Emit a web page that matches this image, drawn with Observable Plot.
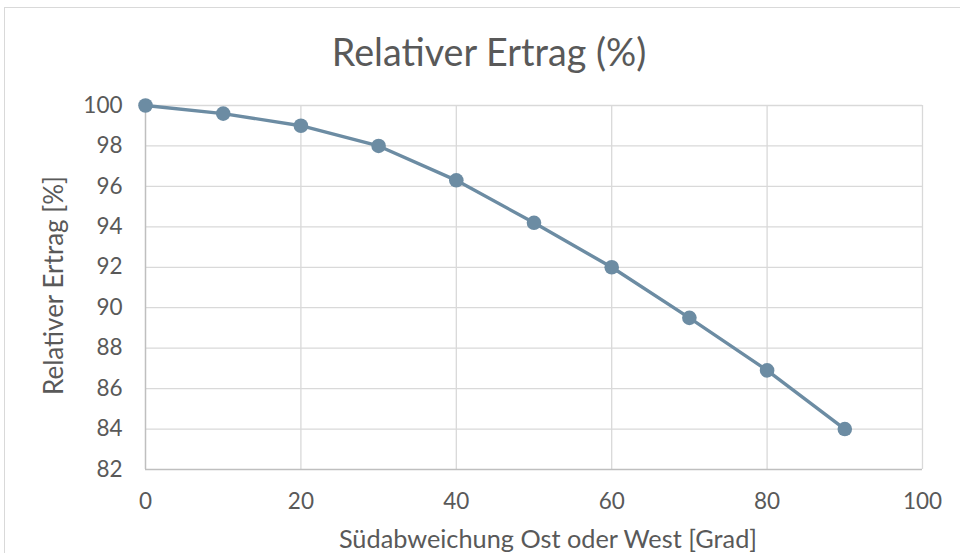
<!DOCTYPE html>
<html>
<head>
<meta charset="utf-8">
<script src="https://cdn.jsdelivr.net/npm/d3@7"></script>
<script src="https://cdn.jsdelivr.net/npm/@observablehq/plot@0.6"></script>
<style>
  html, body { margin: 0; padding: 0; background: #fff; }
  body { width: 960px; height: 553px; overflow: hidden; position: relative; font-family: Lato, "Open Sans", sans-serif; }
  #frame { position: absolute; left: 4px; top: 7px; width: 980px; height: 600px; border: 1px solid #d9d9d9; box-sizing: border-box; }
  #title { position: absolute; left: 0; top: 0; width: 978px; height: 80px; text-align: center; font-size: 37.7px; font-weight: 400; color: #595959; line-height: 104px; }
  #chart { position: absolute; left: 0; top: 80px; }
  #chart svg { overflow: visible; }
</style>
</head>
<body>
<div id="frame"></div>
<div id="title">Relativer Ertrag (%)</div>
<div id="chart"></div>
<script>
const angles = [0, 10, 20, 30, 40, 50, 60, 70, 80, 90];
const yieldPct = [100, 99.6, 99.0, 98.0, 96.3, 94.2, 92.0, 89.5, 86.9, 84.0];
const xTicks = [0, 20, 40, 60, 80, 100];
const yTicks = [82, 84, 86, 88, 90, 92, 94, 96, 98, 100];
const xTitle = "Südabweichung Ost oder West [Grad]";
const yTitle = "Relativer Ertrag [%]";

const data = angles.map((a, i) => ({angle: a, value: yieldPct[i]}));
const color = "#6c8ca3";
const textColor = "#595959";

const plot = Plot.plot({
  width: 960,
  height: 473,
  marginLeft: 145,
  marginRight: 38,
  marginTop: 25,
  marginBottom: 84,
  style: {fontFamily: "Lato, 'Open Sans', sans-serif", fontSize: "22px", color: textColor, background: "transparent"},
  x: {domain: [0, 100]},
  y: {domain: [82, 100]},
  marks: [
    Plot.gridX(xTicks.filter(d => d > 0), {stroke: "#d9d9d9", strokeOpacity: 1, strokeWidth: 1.3}),
    Plot.gridY(yTicks.filter(d => d > 82), {stroke: "#d9d9d9", strokeOpacity: 1, strokeWidth: 1.3}),
    Plot.ruleY([82], {stroke: "#bfbfbf", strokeWidth: 1.5}),
    Plot.ruleX([0], {stroke: "#bfbfbf", strokeWidth: 1.5}),
    Plot.axisX({ticks: xTicks, tickSize: 0, tickPadding: 24, fill: textColor, fontSize: 22.5, label: null}),
    Plot.axisY({ticks: yTicks, tickSize: 0, tickPadding: 23, fill: textColor, fontSize: 22.5, label: null}),
    Plot.text([xTitle], {frameAnchor: "bottom", dx: 14, dy: 78, fontSize: 25.3, fill: textColor, text: d => d}),
    Plot.text([yTitle], {frameAnchor: "left", dx: -91, dy: -2, rotate: -90, textAnchor: "middle", fontSize: 26, fill: textColor, text: d => d}),
    Plot.line(data, {x: "angle", y: "value", stroke: color, strokeWidth: 3.4}),
    Plot.dot(data, {x: "angle", y: "value", fill: color, r: 7.3})
  ]
});
document.getElementById("chart").appendChild(plot);
</script>
</body>
</html>
